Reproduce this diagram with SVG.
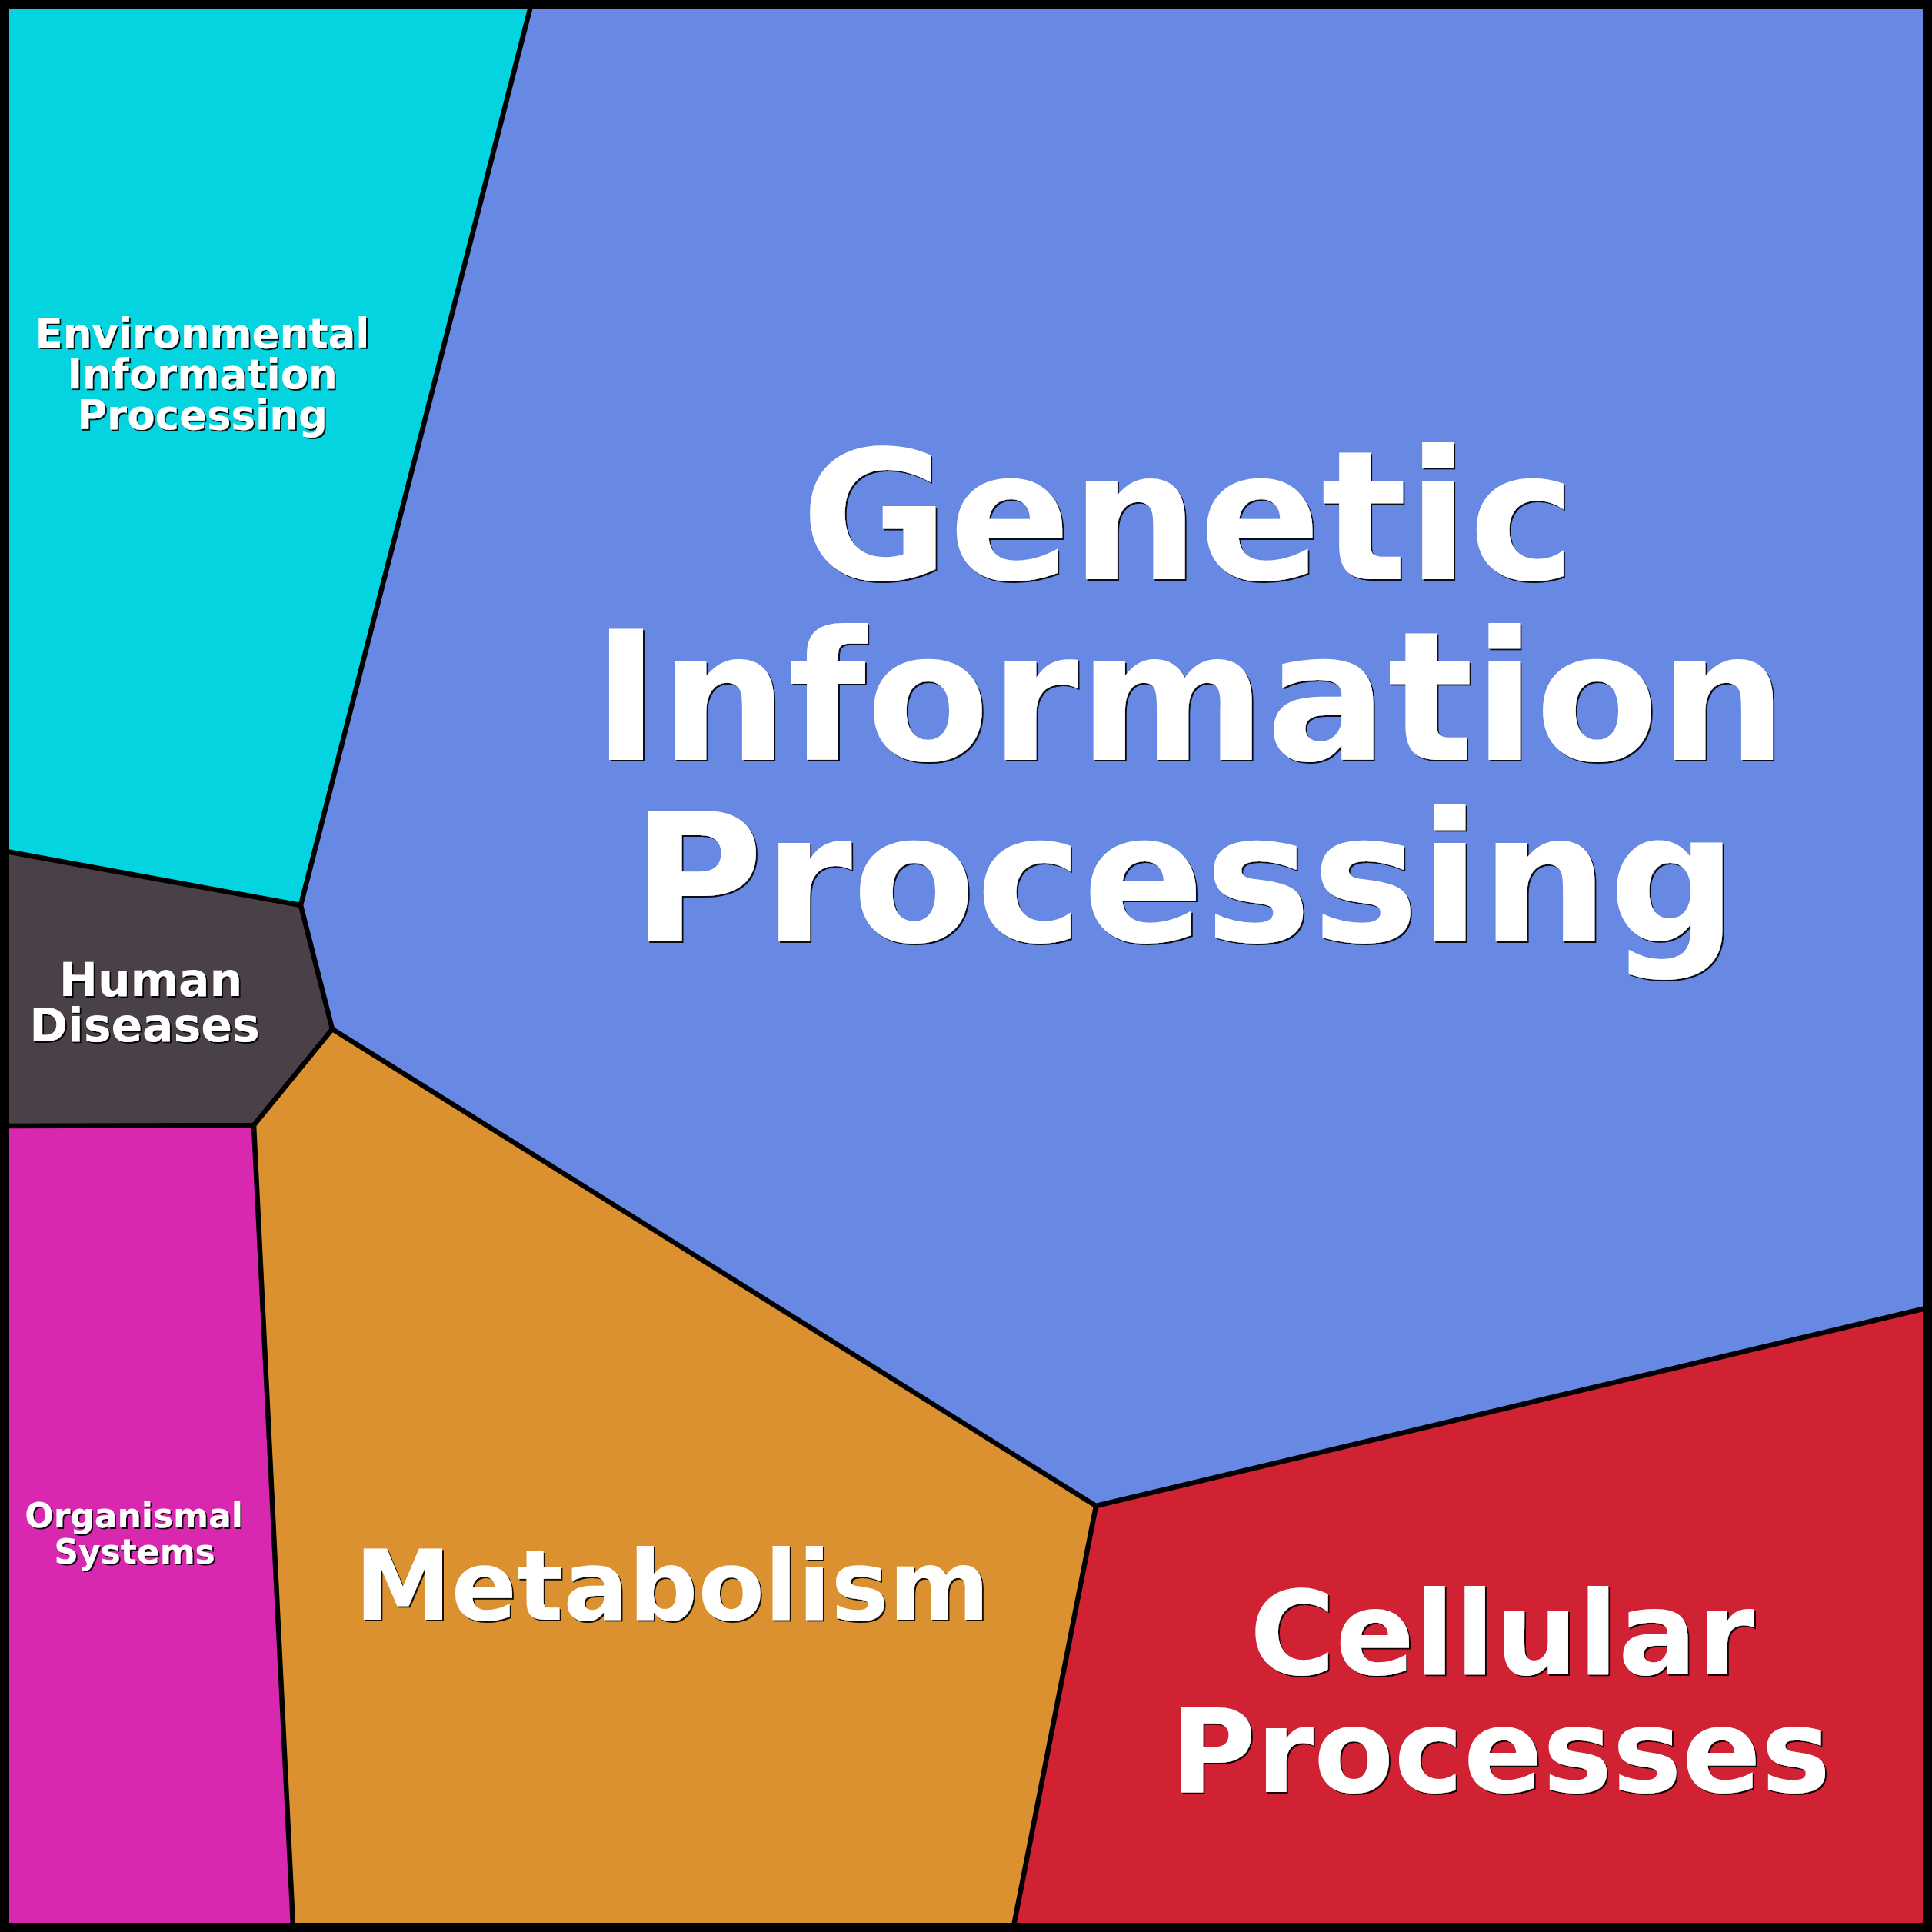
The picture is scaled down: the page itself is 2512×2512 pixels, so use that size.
<svg xmlns="http://www.w3.org/2000/svg" width="2512" height="2512" viewBox="0 0 2512 2512">
<style>
.lbl{font-family:"DejaVu Sans","Verdana",sans-serif;font-weight:bold;fill:#ffffff;text-anchor:middle;filter:url(#sh)}
.edge{fill:none;stroke:#000000;stroke-width:6.5;stroke-linejoin:miter;stroke-linecap:round}
</style>
<defs>
<filter id="sh" x="-5%" y="-5%" width="110%" height="110%">
<feDropShadow dx="2" dy="2" stdDeviation="0.6" flood-color="#000000" flood-opacity="0.9"/>
</filter>
</defs>
<g id="environmental">
<polygon points="0,0 692,0 690,8 391,1177 8,1107 0,1106" fill="#04d4df"/>
<text class="lbl" font-size="53" x="263" y="452">Environmental</text>
<text class="lbl" font-size="53" x="263" y="505">Information</text>
<text class="lbl" font-size="53" x="263" y="558">Processing</text>
</g>
<g id="genetic">
<polygon points="692,0 2512,0 2512,1699 2504,1701 1425,1958 432,1338 391,1177 690,8" fill="#6789e4"/>
<text class="lbl" font-size="234" x="1545" y="753">Genetic</text>
<text class="lbl" font-size="234" x="1547" y="988">Information</text>
<text class="lbl" font-size="234" x="1540" y="1224">Processing</text>
</g>
<g id="human">
<polygon points="0,1106 8,1107 391,1177 432,1338 330,1463 8,1464 0,1464" fill="#4a4148"/>
<text class="lbl" font-size="60" x="196" y="1295">Human</text>
<text class="lbl" font-size="60" x="188" y="1354">Diseases</text>
</g>
<g id="organismal">
<polygon points="0,1464 8,1464 330,1463 381,2504 381,2512 0,2512" fill="#d828b0"/>
<text class="lbl" font-size="44" x="174" y="1986">Organismal</text>
<text class="lbl" font-size="44" x="175" y="2033">Systems</text>
</g>
<g id="metabolism">
<polygon points="330,1463 432,1338 1425,1958 1318,2504 1318,2512 381,2512 381,2504" fill="#db912f"/>
<text class="lbl" font-size="126" x="874" y="2106">Metabolism</text>
</g>
<g id="cellular">
<polygon points="1425,1958 2504,1701 2512,1699 2512,2512 1318,2512 1318,2504" fill="#d02232"/>
<text class="lbl" font-size="152" x="1953" y="2177">Cellular</text>
<text class="lbl" font-size="152" x="1951" y="2330">Processes</text>
</g>
<g id="connectors">
<polyline class="edge" points="690,8 391,1177 8,1107"/>
<polyline class="edge" points="391,1177 432,1338 330,1463 8,1464"/>
<polyline class="edge" points="330,1463 381,2504"/>
<polyline class="edge" points="432,1338 1425,1958 2504,1701"/>
<polyline class="edge" points="1425,1958 1318,2504"/>
<rect x="6" y="6" width="2500" height="2500" fill="none" stroke="#000000" stroke-width="12"/>
</g>
</svg>
